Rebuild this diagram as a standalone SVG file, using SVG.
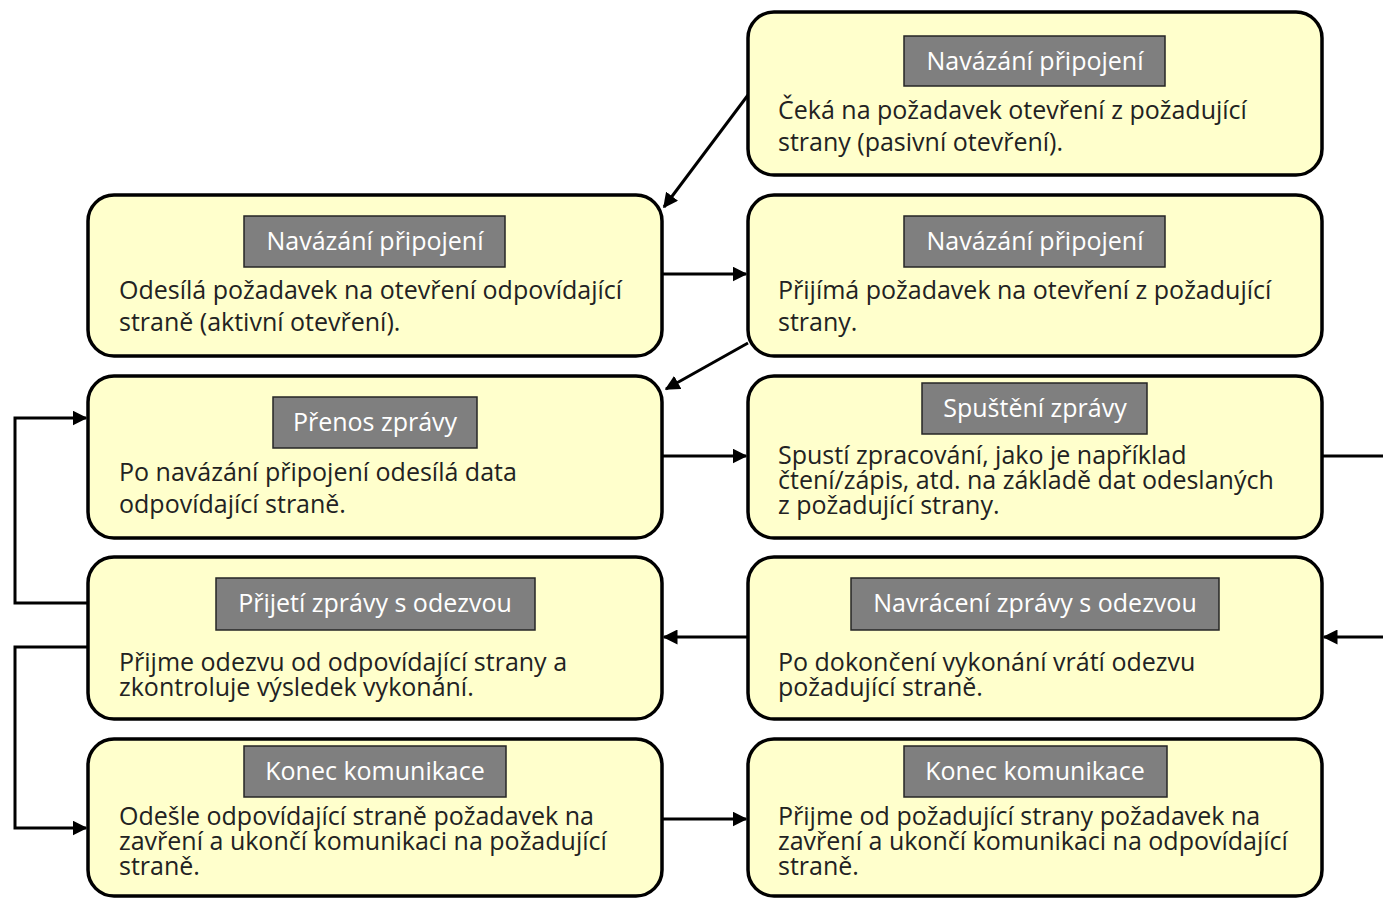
<svg xmlns="http://www.w3.org/2000/svg" width="1383" height="898" viewBox="0 0 1383 898">
<style>
.box{fill:#FFFFCC;stroke:#000;stroke-width:3.5}
.badge{fill:#7F7F7F;stroke:#262626;stroke-width:1.5}
.bt{font-family:"Open Sans","Noto Sans",sans-serif;font-size:25px;fill:#FFFFFF;text-anchor:middle}
.tx{font-family:"Open Sans","Noto Sans",sans-serif;font-size:25px;fill:#222222}
.c{fill:none;stroke:#000;stroke-width:3;marker-end:url(#ah)}
.cn{fill:none;stroke:#000;stroke-width:3}
</style>
<defs>
<marker id="ah" viewBox="0 0 10 10" refX="9" refY="5" markerWidth="5" markerHeight="5" orient="auto" markerUnits="strokeWidth">
<path d="M0,0 L10,5 L0,10 z" fill="#000"/>
</marker>
</defs>
<rect width="1383" height="898" fill="#FFFFFF"/>
<g id="connectors">
<path class="c" d="M748,95 L664,207"/>
<path class="c" d="M662,274 L746,274"/>
<path class="c" d="M748,343 L666,389"/>
<path class="c" d="M662,456 L746,456"/>
<path class="cn" d="M1322,456 L1383,456"/>
<path class="c" d="M1383,637 L1324,637"/>
<path class="c" d="M748,637 L664,637"/>
<path class="c" d="M88,603 L15,603 L15,418 L86,418"/>
<path class="c" d="M88,647 L15,647 L15,828 L86,828"/>
<path class="c" d="M662,819 L746,819"/>
</g>
<g id="n0">
<rect class="box" x="748" y="12" width="574" height="163" rx="26"/>
<rect class="badge" x="904" y="36" width="261" height="50"/>
<text class="bt" x="1035" y="70">Navázání připojení</text>
<text class="tx" x="778" y="119">Čeká na požadavek otevření z požadující</text>
<text class="tx" x="778" y="151">strany (pasivní otevření).</text>
</g>
<g id="n1">
<rect class="box" x="88" y="195" width="574" height="161" rx="26"/>
<rect class="badge" x="244" y="216" width="261" height="51"/>
<text class="bt" x="375" y="250">Navázání připojení</text>
<text class="tx" x="119" y="299">Odesílá požadavek na otevření odpovídající</text>
<text class="tx" x="119" y="331">straně (aktivní otevření).</text>
</g>
<g id="n2">
<rect class="box" x="748" y="195" width="574" height="161" rx="26"/>
<rect class="badge" x="904" y="216" width="261" height="51"/>
<text class="bt" x="1035" y="250">Navázání připojení</text>
<text class="tx" x="778" y="299">Přijímá požadavek na otevření z požadující</text>
<text class="tx" x="778" y="331">strany.</text>
</g>
<g id="n3">
<rect class="box" x="88" y="376" width="574" height="162" rx="26"/>
<rect class="badge" x="273" y="397" width="204" height="51"/>
<text class="bt" x="375" y="431">Přenos zprávy</text>
<text class="tx" x="119" y="481">Po navázání připojení odesílá data</text>
<text class="tx" x="119" y="513">odpovídající straně.</text>
</g>
<g id="n4">
<rect class="box" x="748" y="376" width="574" height="162" rx="26"/>
<rect class="badge" x="922" y="383" width="225" height="51"/>
<text class="bt" x="1035" y="417">Spuštění zprávy</text>
<text class="tx" x="778" y="464">Spustí zpracování, jako je například</text>
<text class="tx" x="778" y="489">čtení/zápis, atd. na základě dat odeslaných</text>
<text class="tx" x="778" y="514">z požadující strany.</text>
</g>
<g id="n5">
<rect class="box" x="88" y="557" width="574" height="162" rx="26"/>
<rect class="badge" x="216" y="578" width="319" height="52"/>
<text class="bt" x="375" y="612">Přijetí zprávy s odezvou</text>
<text class="tx" x="119" y="671">Přijme odezvu od odpovídající strany a</text>
<text class="tx" x="119" y="696">zkontroluje výsledek vykonání.</text>
</g>
<g id="n6">
<rect class="box" x="748" y="557" width="574" height="162" rx="26"/>
<rect class="badge" x="851" y="578" width="368" height="52"/>
<text class="bt" x="1035" y="612">Navrácení zprávy s odezvou</text>
<text class="tx" x="778" y="671">Po dokončení vykonání vrátí odezvu</text>
<text class="tx" x="778" y="696">požadující straně.</text>
</g>
<g id="n7">
<rect class="box" x="88" y="739" width="574" height="157" rx="26"/>
<rect class="badge" x="244" y="746" width="262" height="51"/>
<text class="bt" x="375" y="780">Konec komunikace</text>
<text class="tx" x="119" y="825">Odešle odpovídající straně požadavek na</text>
<text class="tx" x="119" y="850">zavření a ukončí komunikaci na požadující</text>
<text class="tx" x="119" y="875">straně.</text>
</g>
<g id="n8">
<rect class="box" x="748" y="739" width="574" height="157" rx="26"/>
<rect class="badge" x="904" y="746" width="263" height="51"/>
<text class="bt" x="1035" y="780">Konec komunikace</text>
<text class="tx" x="778" y="825">Přijme od požadující strany požadavek na</text>
<text class="tx" x="778" y="850">zavření a ukončí komunikaci na odpovídající</text>
<text class="tx" x="778" y="875">straně.</text>
</g>
</svg>
